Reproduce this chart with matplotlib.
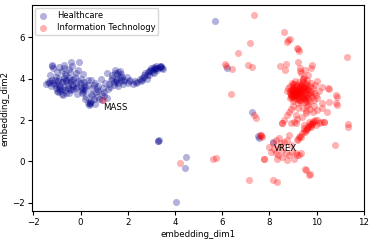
import matplotlib
matplotlib.use('Agg')
import matplotlib.pyplot as plt

# Healthcare embeddings (x, y)
health_x = [-1.45, -1.4, -1.3, -1.25, -1.2, -1.15, -1.1, -1.05, -1.0, -1.0, -0.95, -0.9, -0.85, -0.8,
            -0.75, -0.75, -0.7, -0.65, -0.6, -0.55, -0.5, -0.45, -0.4, -0.4, -0.35, -0.3, -0.25, -0.2,
            -0.15, -0.1, -0.05, 0.0, 0.0, 0.05, 0.1, 0.15, 0.2, 0.25, 0.3, 0.35, 0.4, 0.45, 0.45, 0.5,
            0.55, 0.6, 0.65, 0.7, 0.75, 0.8, 0.85, 0.9, 0.95, 1.0, 1.05, 1.1, 1.1, 1.15, 1.2, 1.3,
            1.35, 1.4, 1.45, 1.5, 1.55, 1.6, 1.65, 1.7, 1.75, 1.8, 1.85, 1.95, 2.0, 2.1, 2.2, 2.3,
            2.4, 2.5, 2.55, 2.6, 2.7, 2.75, 2.8, 2.85, 2.9, 2.95, 3.0, 3.05, 3.1, 3.15, 3.2, 3.3,
            3.35, 3.45, 3.5, 0.9, 0.6, 0.3, -0.9, -0.6, -0.3, -1.2, 0.1, -0.8, 1.25, 1.6,
            -1.15, -1.05, -0.95, -0.85, -0.7, -0.6, -0.5, -0.35, -0.2, -0.1, 0.05, 0.2, -0.9, -0.65,
            -1.2, 0.4, 1.45, 1.55, 1.7, 1.6, 2.9, 3.05, 3.2, 3.35, 3.4, 2.7, 0.38, 0.45, -0.45, -1.35,
            -1.3, -1.1, -0.9, -0.8, -0.7, -0.55, -0.45, -0.3, -0.15, 0.0, 0.15, 0.3, 0.55, 0.75,
            -1.0, -0.8, -0.6, -0.4, -0.2, 0.1, -0.7, -0.5, 1.35, 1.5, 1.65, 1.8, 1.4, 2.05, 2.35,
            2.6, 2.8, 3.0, 3.15, 3.25, 3.4, 3.1, 0.5, 0.7, 1.0, 0.2,
            3.3, 3.32, 3.28, 4.47, 4.41, 4.05, 5.68, 6.2, 7.26, 7.52, 7.57, 8.15]
health_y = [3.75, 3.85, 4.15, 3.65, 4.65, 4.5, 3.95, 3.55, 4.3, 3.75, 3.35, 4.05, 3.6, 4.35,
            3.2, 3.9, 4.5, 3.45, 4.15, 3.7, 3.3, 4.3, 4.8, 3.95, 4.6, 3.5, 4.1, 3.8,
            3.25, 4.4, 4.8, 3.6, 4.0, 3.3, 4.2, 3.85, 3.45, 3.1, 3.7, 2.72, 2.85, 3.95, 3.25, 3.55,
            3.0, 3.8, 3.35, 3.1, 3.65, 3.0, 4.0, 3.25, 3.55, 3.15, 3.8, 4.25, 3.05, 3.5, 3.75, 3.95,
            4.15, 3.7, 4.4, 3.85, 4.2, 3.65, 4.35, 3.95, 4.1, 3.75, 3.95, 4.1, 3.8, 3.95, 3.75, 3.9,
            3.85, 4.0, 3.9, 4.05, 4.1, 4.25, 4.0, 4.3, 4.15, 4.4, 4.5, 4.3, 4.55, 4.45, 4.6, 4.5,
            4.6, 4.5, 4.45, 2.95, 2.75, 2.8, 3.7, 3.9, 3.65, 3.95, 3.5, 3.5, 3.6, 3.8,
            3.8, 4.1, 3.9, 3.4, 3.6, 3.95, 4.05, 3.75, 4.25, 3.9, 3.45, 3.6, 4.55, 4.2,
            4.6, 2.78, 4.25, 4.0, 4.2, 4.3, 4.35, 4.45, 4.5, 4.55, 4.6, 4.15, 2.8, 2.9, 3.5, 3.8,
            3.9, 3.7, 3.5, 3.85, 4.05, 3.55, 3.85, 4.0, 3.6, 3.8, 3.7, 3.95, 3.7, 3.4,
            3.4, 3.25, 3.3, 3.45, 3.55, 3.35, 4.65, 4.45, 4.05, 3.95, 4.1, 3.9, 3.85, 3.9, 3.8,
            3.95, 4.15, 4.35, 4.5, 4.4, 4.55, 4.25, 3.2, 3.5, 3.35, 3.0,
            1.0, 1.02, 0.98, 0.22, -0.34, -1.98, 6.8, 4.52, 2.38, 1.24, 1.11, 0.95]

# Information Technology embeddings (x, y)
it_x = [7.33, 8.63, 8.75, 8.8, 8.85, 7.19, 6.67, 9.2, 9.27, 9.15, 6.13, 6.41, 6.18, 7.09, 7.24,
        8.44, 8.7, 8.67, 9.22, 9.76, 9.79, 11.27, 6.38, 7.35, 7.44, 0.95,
        4.2, 5.61, 5.75, 7.13, 8.17, 8.34, 9.5, 9.72, 10.76, 11.33, 11.32, 7.75, 7.6, 7.65, 7.7,
        9.28, 9.32, 9.46, 9.65, 9.3, 9.5, 9.4,
        10.24, 10.49, 10.52, 10.8, 10.87, 10.8, 10.87, 10.24, 10.52, 10.21, 10.45, 9.96, 10.03, 10.1, 10.0,
        8.85, 8.9, 8.95, 9.0, 9.0, 9.05, 9.1, 9.1, 9.15, 9.15, 9.2, 9.2, 9.25, 9.3, 9.3, 9.35,
        9.35, 9.4, 9.45, 9.45, 9.5, 9.55, 9.55, 9.6, 9.65, 9.7, 9.7, 9.75, 9.8, 9.85, 8.8, 8.85,
        8.95, 9.0, 9.1, 9.2, 9.25, 9.4, 9.5, 9.6, 9.65, 9.9, 9.95, 8.75, 9.05, 9.12, 9.18, 9.08,
        8.98, 9.28, 9.38, 9.48, 9.58, 9.22, 9.02, 9.32, 9.42, 9.62, 9.78, 9.88,
        8.9, 8.95, 9.0, 9.05, 9.1, 9.15, 9.2, 9.25, 8.92, 9.02, 9.12, 9.22, 9.32, 8.88, 8.98,
        9.08, 9.18, 9.28, 9.38, 9.0, 9.1, 9.2, 9.3, 9.45, 9.55, 9.35, 9.15, 9.05, 8.95, 9.25,
        9.5, 9.6, 9.7, 9.45, 9.55, 9.65, 9.35, 9.75, 9.4, 9.5, 9.6, 8.85, 8.9, 9.0, 9.4, 9.3,
        8.83, 8.76, 8.62, 8.52, 8.9, 9.11, 9.18, 9.11, 9.39, 9.54, 9.68, 9.81, 9.46, 9.75, 10.17,
        10.31, 9.96, 8.55, 9.04,
        9.4, 9.55, 9.7, 9.85, 9.6, 9.9, 10.0, 9.2, 9.0, 8.9,
        9.25, 9.39, 9.54, 9.68, 9.81, 10.1, 10.31, 9.18, 9.3, 9.45, 9.6, 9.5, 9.35, 9.62, 9.75,
        9.9, 10.0, 9.45, 9.2, 9.72, 9.85, 9.58, 9.95,
        8.13, 8.27, 8.41, 8.48, 7.99, 8.06, 8.27, 8.55, 8.69, 8.83, 8.97, 9.11, 9.25, 8.83, 8.76,
        8.9, 8.41, 8.34, 8.55, 8.76, 9.04, 9.18, 9.32, 7.78, 9.54, 9.68, 7.64, 8.2, 8.62, 8.35]
it_y = [7.07, 6.26, 5.75, 5.85, 5.92, 5.73, 5.25, 5.42, 5.34, 5.5, 4.69, 4.46, 4.6, 4.65, 4.56,
        4.62, 4.7, 4.41, 4.81, 4.5, 4.65, 5.05, 3.27, 2.24, 2.08, 2.96,
        -0.07, 0.14, 0.17, -0.9, -0.9, -0.97, -0.37, -0.63, 0.79, 1.8, 1.64, 0.1, 1.28, 1.25, 1.2,
        4.49, 4.25, 4.09, 4.17, 4.35, 4.4, 4.0,
        3.6, 3.53, 3.48, 3.2, 3.12, 2.8, 2.72, 2.8, 2.88, 2.56, 2.4, 3.2, 3.04, 3.4, 3.9,
        3.3, 3.45, 3.2, 3.6, 3.35, 3.1, 3.5, 3.25, 3.7, 3.0, 3.4, 3.15, 3.55, 3.3, 2.95, 3.75,
        3.45, 3.2, 3.6, 3.0, 3.35, 3.8, 3.1, 3.5, 3.25, 3.65, 2.9, 3.4, 3.1, 3.55, 3.55, 3.05,
        3.8, 2.9, 3.9, 2.8, 3.85, 4.0, 2.85, 3.95, 2.75, 3.3, 3.7, 3.4, 3.45, 3.35, 3.28, 3.18,
        3.5, 3.62, 3.38, 3.12, 3.68, 3.05, 3.72, 2.85, 3.85, 3.05, 3.8, 2.95,
        3.25, 3.4, 3.3, 3.22, 3.38, 3.3, 3.25, 3.42, 3.15, 3.2, 3.42, 3.32, 3.18, 3.38, 3.28,
        3.3, 3.45, 3.35, 3.28, 3.55, 3.6, 3.55, 3.48, 3.45, 3.2, 3.1, 3.15, 3.0, 3.1, 2.95,
        3.5, 3.4, 3.3, 3.7, 3.6, 3.5, 3.65, 3.2, 3.05, 3.0, 2.9, 3.65, 3.15, 3.75, 3.55, 3.7,
        2.4, 2.24, 2.0, 1.86, 1.86, 2.24, 2.03, 1.84, 2.15, 2.32, 1.91, 1.84, 1.75, 1.67, 1.91,
        1.91, 1.75, 1.86, 1.91,
        2.6, 2.45, 2.55, 2.4, 2.7, 2.7, 2.5, 2.6, 2.7, 2.55,
        1.19, 1.35, 1.51, 1.67, 1.8, 1.86, 1.91, 1.03, 1.25, 1.45, 1.55, 1.4, 1.2, 1.7, 1.75,
        1.9, 2.0, 1.6, 1.1, 1.82, 1.95, 1.62, 1.98,
        0.87, 1.03, 1.11, 0.87, 0.71, 0.46, 0.39, 0.55, 0.39, 0.3, 0.46, 0.39, 0.3, 1.27, 1.03,
        0.79, 0.71, 0.14, 0.22, 0.06, 0.14, 0.3, 0.39, 0.1, -0.39, -0.66, 1.27, 0.6, 0.95, 0.3]

fig = plt.figure(figsize=(3.74, 2.4), dpi=100)
ax = fig.add_axes([0.086, 0.121, 0.887, 0.858])

ax.scatter(health_x, health_y, s=26, color='darkblue', alpha=0.3, linewidths=0,
           label='Healthcare')
ax.scatter(it_x, it_y, s=26, color='red', alpha=0.3, linewidths=0,
           label='Information Technology')

# annotated tickers
ax.annotate('MASS', (0.95, 2.47), fontsize=6.2)
ax.annotate('VREX', (8.19, 0.51), fontsize=6.2)

ax.set_xlim(-2.05, 12.0)
ax.set_ylim(-2.39, 7.55)
ax.set_xticks([-2, 0, 2, 4, 6, 8, 10, 12])
ax.set_yticks([-2, 0, 2, 4, 6])
ax.tick_params(labelsize=6.2, length=3, pad=2)
ax.set_xlabel('embedding_dim1', fontsize=6.2, labelpad=2)
ax.set_ylabel('embedding_dim2', fontsize=6.2, labelpad=2)
ax.legend(loc='upper left', fontsize=6, handlelength=1.2, handletextpad=1.0,
          labelspacing=0.3, borderpad=0.35, borderaxespad=0.4)

fig.savefig('out.png', dpi=100)
